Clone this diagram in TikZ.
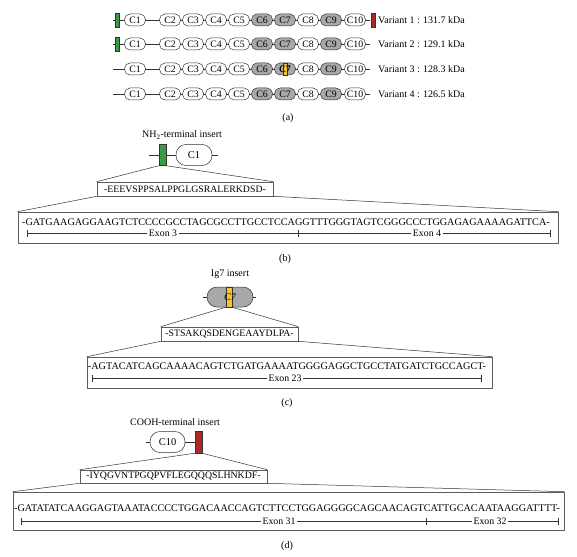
\documentclass[tikz,border=0pt]{standalone}
\usepackage{fontspec}
\setmainfont{Liberation Serif}
\usetikzlibrary{arrows.meta}
\usepackage{xcolor}
\definecolor{dgray}{HTML}{A8A8A8}
\definecolor{igreen}{HTML}{3A9A48}
\definecolor{ired}{HTML}{A82A2A}
\definecolor{iyellow}{HTML}{F4C430}
\definecolor{lgray}{HTML}{5C5C5C}

\tikzset{
  dom/.style={draw=black!80, fill=white, rounded corners=5.5pt, minimum width=21pt,
    minimum height=12pt, inner sep=0pt, line width=0.5pt, font=\fontsize{9.8}{10}\selectfont},
  gdom/.style={dom, fill=dgray},
  bigdom/.style={dom, rounded corners=10pt, minimum width=36pt, minimum height=21pt,
    font=\fontsize{10.5}{11}\selectfont},
  tag/.style={draw=black!80, line width=0.5pt, minimum width=4pt, minimum height=14pt, inner sep=0pt},
  pep/.style={draw=lgray, line width=0.6pt, inner sep=0pt, font=\fontsize{9.8}{11}\selectfont},
  seqbox/.style={draw=lgray, line width=0.6pt, inner sep=0pt},
  seq/.style={inner sep=0pt, font=\fontsize{10.2}{12}\selectfont},
  exon/.style={fill=white, inner sep=2pt, font=\fontsize{9.8}{10}\selectfont},
  bar/.style={line width=0.5pt, draw=black!80, {Bar[width=7pt]}-{Bar[width=7pt]}},
  wire/.style={line width=0.5pt, draw=black!80},
  lab/.style={inner sep=0pt, font=\fontsize{10}{12}\selectfont},
}

\begin{document}
\begin{tikzpicture}[x=1pt,y=-1pt]
  \path[use as bounding box, fill=white] (0,0) rectangle (577,556);

  % (a) the four variants
  \foreach \r/\y in {1/20,2/44,3/69,4/94} {
    \coordinate (r\r-s) at (113,\y);
    \coordinate (r\r-e) at (370,\y);
    \draw[wire] (r\r-s) -- (r\r-e);
    \foreach \c/\x in {1/135,2/170,3/193,4/216,5/239,8/308,10/355}
      \node[dom] (r\r-\c) at (\x,\y) {C\c};
    \foreach \c/\x in {6/262,7/285,9/331}
      \node[gdom] (r\r-\c) at (\x,\y) {C\c};
  }
  \node[tag, fill=igreen] (g1) at (117.5,20) {};
  \node[tag, fill=igreen] (g2) at (117.5,44) {};
  \node[tag, fill=ired] (red1) at (373,20) {};
  \node[tag, fill=iyellow, minimum height=12pt] (y3) at (285,69) {};
  \node[inner sep=0pt, font=\fontsize{9.8}{10}\selectfont] (y3t) at (285,69) {C7};

  \node[lab, anchor=west] (v1) at (378,20) {Variant 1 : 131.7 kDa};
  \node[lab, anchor=west] (v2) at (378,44) {Variant 2 : 129.1 kDa};
  \node[lab, anchor=west] (v3) at (378,69) {Variant 3 : 128.3 kDa};
  \node[lab, anchor=west] (v4) at (378,94) {Variant 4 : 126.5 kDa};
  \node[lab] (pa) at (288,118) {(a)};

  % (b) NH2-terminal insert
  \node[lab] (tb) at (182,135) {NH\textsubscript{2}-terminal insert};
  \coordinate (bs) at (149,155);
  \coordinate (be) at (218,155);
  \node[tag, fill=igreen, minimum width=7pt, minimum height=21pt] (nh) at (162.5,155) {};
  \node[bigdom] (b1) at (194,155) {C1};
  \draw[wire] (bs) -- (nh.west);
  \draw[wire] (nh.east) -- (b1.west);
  \draw[wire] (b1.east) -- (be);
  \node[pep, minimum width=176pt, minimum height=14pt] (pepb) at (185,189) {-EEEVSPPSALPPGLGSRALERKDSD-};
  \node[seqbox, minimum width=540pt, minimum height=31pt] (boxb) at (288,227.5) {};
  \node[seq] (sqb) at (286,222) {-GATGAAGAGGAAGTCTCCCCGCCTAGCGCCTTGCCTCCAGGTTTGGGTAGTCGGGCCCTGGAGAGAAAAGATTCA-};
  \draw[wire] (nh.south west) -- (pepb.north west);
  \draw[wire] (nh.south east) -- (pepb.north east);
  \draw[wire] (pepb.south west) -- (boxb.north west);
  \draw[wire] (pepb.south east) -- (boxb.north east);
  \coordinate (e3a) at (27,233);
  \coordinate (e3b) at (298,233);
  \coordinate (e4b) at (550,233);
  \draw[bar] (e3a) -- (e3b);
  \draw[bar] (e3b) -- (e4b);
  \node[exon] (x3) at (163,233) {Exon 3};
  \node[exon] (x4) at (427,233) {Exon 4};
  \node[lab] (pb) at (285,259) {(b)};

  % (c) Ig7 insert
  \node[lab] (tc) at (230,274) {Ig7 insert};
  \coordinate (cs) at (203,297);
  \coordinate (ce) at (256,297);
  \node[bigdom, fill=dgray, minimum width=46pt, minimum height=20pt] (c7) at (230,297) {};
  \draw[wire] (cs) -- (c7.west);
  \draw[wire] (c7.east) -- (ce);
  \node[tag, fill=iyellow, minimum width=6pt, minimum height=20pt] (ig) at (229,297) {};
  \node[inner sep=0pt, font=\fontsize{10}{11}\selectfont\itshape] (igt) at (230,297) {C7};
  \node[pep, minimum width=137pt, minimum height=14pt] (pepc) at (229.5,334) {-STSAKQSDENGEAAYDLPA-};
  \node[seqbox, minimum width=405pt, minimum height=31pt] (boxc) at (289.5,372.5) {};
  \node[seq] (sqc) at (287,366) {-AGTACATCAGCAAAACAGTCTGATGAAAATGGGGAGGCTGCCTATGATCTGCCAGCT-};
  \draw[wire] (ig.south west) -- (pepc.north west);
  \draw[wire] (ig.south east) -- (pepc.north east);
  \draw[wire] (pepc.south west) -- (boxc.north west);
  \draw[wire] (pepc.south east) -- (boxc.north east);
  \coordinate (e23a) at (92,378);
  \coordinate (e23b) at (481,378);
  \draw[bar] (e23a) -- (e23b);
  \node[exon] (x23) at (285,378) {Exon 23};
  \node[lab] (pc) at (287,403) {(c)};

  % (d) COOH-terminal insert
  \node[lab] (td) at (175,422) {COOH-terminal insert};
  \coordinate (ds) at (146,442);
  \node[bigdom, minimum width=35pt] (d10) at (167.5,442) {C10};
  \node[tag, fill=ired, minimum width=7pt, minimum height=22pt] (cooh) at (198.5,442) {};
  \draw[wire] (ds) -- (d10.west);
  \draw[wire] (d10.east) -- (cooh.west);
  \node[pep, minimum width=187pt, minimum height=13pt] (pepd) at (173.5,476.5) {-IYQGVNTPGQPVFLEGQQQSLHNKDF-};
  \node[seqbox, minimum width=551pt, minimum height=38pt] (boxd) at (288.5,511) {};
  \node[seq] (sqd) at (287,508) {-GATATATCAAGGAGTAAATACCCCTGGACAACCAGTCTTCCTGGAGGGGCAGCAACAGTCATTGCACAATAAGGATTTT-};
  \draw[wire] (cooh.south west) -- (pepd.north west);
  \draw[wire] (cooh.south east) -- (pepd.north east);
  \draw[wire] (pepd.south west) -- (boxd.north west);
  \draw[wire] (pepd.south east) -- (boxd.north east);
  \coordinate (e31a) at (21,521);
  \coordinate (e31b) at (426,521);
  \coordinate (e32b) at (558,521);
  \draw[bar] (e31a) -- (e31b);
  \draw[bar] (e31b) -- (e32b);
  \node[exon] (x31) at (279,521) {Exon 31};
  \node[exon] (x32) at (490,521) {Exon 32};
  \node[lab] (pd) at (287,546) {(d)};
\end{tikzpicture}
\end{document}
